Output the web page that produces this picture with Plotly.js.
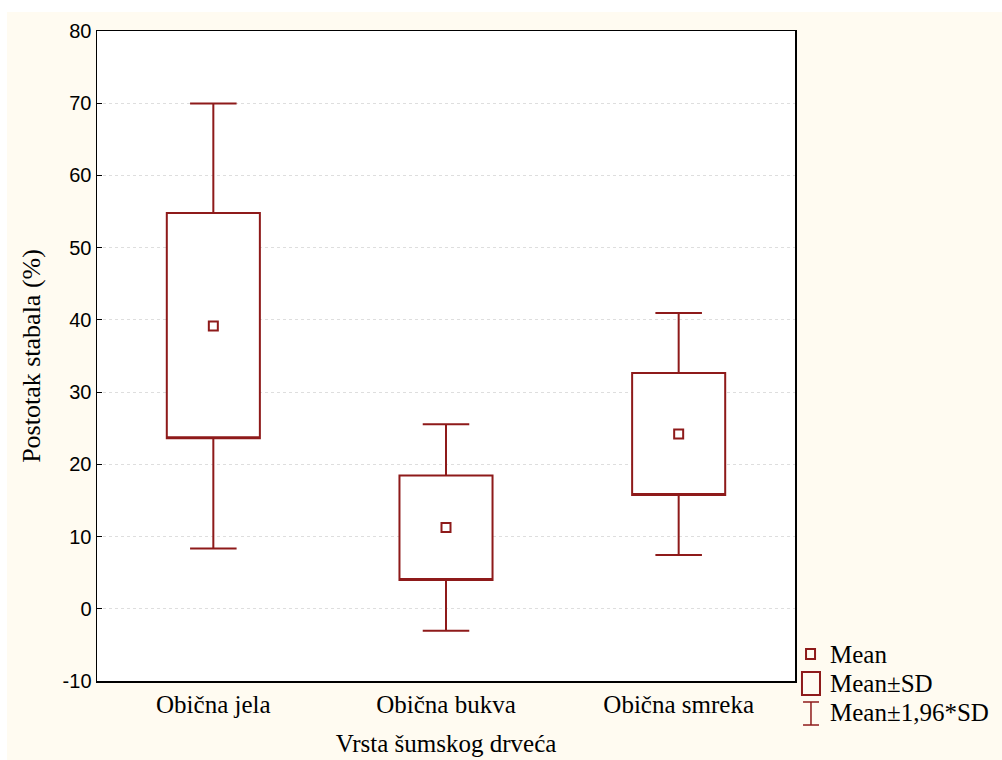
<!DOCTYPE html>
<html>
<head>
<meta charset="utf-8">
<script src="https://cdn.plot.ly/plotly-3.0.1.min.js"></script>
<style>
  html, body { margin: 0; padding: 0; background: #ffffff; }
  #chart { position: absolute; left: 7px; top: 12px; width: 995px; height: 748px; }
</style>
</head>
<body>
<div id="chart"></div>
<script>
const categories = ["Obična jela", "Obična bukva", "Obična smreka"];
const means = [39.15, 11.25, 24.2];
const sdLow = [23.6, 4.0, 15.75];     // Mean - SD
const sdHigh = [54.8, 18.45, 32.65];  // Mean + SD
const ciLow = [8.35, -3.05, 7.45];    // Mean - 1.96*SD
const ciHigh = [69.95, 25.55, 40.95]; // Mean + 1.96*SD
const yTicks = [-10, 0, 10, 20, 30, 40, 50, 60, 70, 80];
const legendLabels = ["Mean", "Mean±SD", "Mean±1,96*SD"];

const red = "#8e1a1a";
const serif = "Liberation Serif, Times New Roman, serif";
const sans = "Liberation Sans, Arial, sans-serif";

const boxTrace = {
  type: "box",
  x: categories,
  q1: sdLow,
  median: sdLow,
  q3: sdHigh,
  lowerfence: ciLow,
  upperfence: ciHigh,
  width: 0.4,
  whiskerwidth: 0.5,
  fillcolor: "#ffffff",
  line: { color: red, width: 2 },
  hoverinfo: "skip",
  showlegend: false
};

const meanTrace = {
  type: "scatter",
  mode: "markers",
  x: categories,
  y: means,
  marker: { symbol: "square-open", size: 9, color: red, line: { color: red, width: 2 } },
  hoverinfo: "skip",
  showlegend: false
};

// legend built from paper-anchored shapes and annotations
const lx = 1.0472;
const legendY = [0.0415, -0.0031, -0.0492];
const annotations = legendLabels.map((t, i) => ({
  xref: "paper", yref: "paper", x: lx, y: legendY[i],
  xanchor: "left", yanchor: "middle", showarrow: false,
  text: t, font: { family: serif, size: 25, color: "#000" }
}));

const shapes = [
  { type: "rect", xref: "paper", yref: "paper", x0: 1.0158, x1: 1.0287, y0: 0.0338, y1: 0.0492,
    line: { color: red, width: 2 }, fillcolor: "rgba(0,0,0,0)" },
  { type: "rect", xref: "paper", yref: "paper", x0: 1.0100, x1: 1.0358, y0: -0.0215, y1: 0.0138,
    line: { color: red, width: 2 }, fillcolor: "rgba(0,0,0,0)" },
  { type: "line", xref: "paper", yref: "paper", x0: 1.0229, x1: 1.0229, y0: -0.0677, y1: -0.0323,
    line: { color: red, width: 1.5 } },
  { type: "line", xref: "paper", yref: "paper", x0: 1.0115, x1: 1.0344, y0: -0.0677, y1: -0.0677,
    line: { color: red, width: 1.5 } },
  { type: "line", xref: "paper", yref: "paper", x0: 1.0115, x1: 1.0344, y0: -0.0323, y1: -0.0323,
    line: { color: red, width: 1.5 } }
];

const layout = {
  width: 995,
  height: 748,
  paper_bgcolor: "#fffbf1",
  plot_bgcolor: "#ffffff",
  margin: { l: 90, r: 207, t: 19, b: 79 },
  showlegend: false,
  xaxis: {
    type: "category",
    range: [-0.5, 2.5],
    showline: true, mirror: true, linecolor: "#000", linewidth: 1.5,
    showgrid: false, zeroline: false, ticks: "",
    tickfont: { family: serif, size: 25, color: "#000" },
    title: { text: "Vrsta šumskog drveća", font: { family: serif, size: 25, color: "#000" }, standoff: 18 }
  },
  yaxis: {
    range: [-10, 80],
    tickvals: yTicks,
    ticktext: yTicks.map(String),
    showline: true, mirror: true, linecolor: "#000", linewidth: 1.5,
    ticks: "inside", ticklen: 5, tickcolor: "#000",
    showgrid: true, gridcolor: "#dedede", griddash: "dot", gridwidth: 1,
    zeroline: false,
    tickfont: { family: sans, size: 20, color: "#000" },
    title: { text: "Postotak stabala (%)", font: { family: serif, size: 26, color: "#000" }, standoff: 14 }
  },
  annotations: annotations,
  shapes: shapes
};

Plotly.newPlot("chart", [boxTrace, meanTrace], layout, { displayModeBar: false, staticPlot: true });
</script>
</body>
</html>
